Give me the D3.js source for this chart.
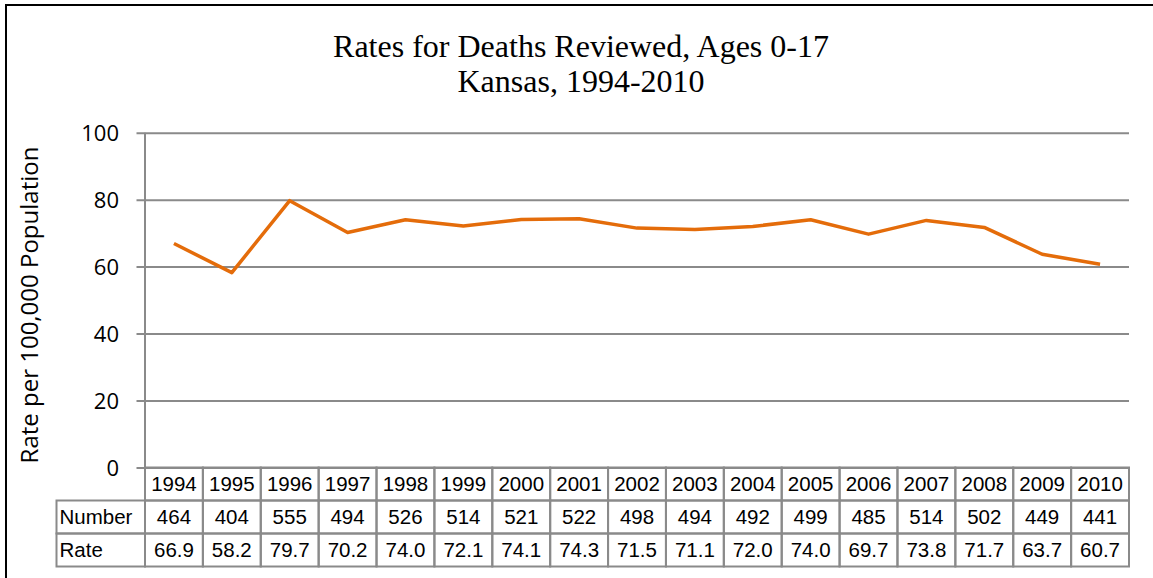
<!DOCTYPE html>
<html>
<head>
<meta charset="utf-8">
<script src="https://cdn.jsdelivr.net/npm/d3@7"></script>
<style>
  body { margin: 0; background: #fff; }
  svg { display: block; }
</style>
</head>
<body>
<svg id="chart" width="1153" height="578"></svg>
<script>
var years = ["1994", "1995", "1996", "1997", "1998", "1999", "2000", "2001", "2002",
             "2003", "2004", "2005", "2006", "2007", "2008", "2009", "2010"];
var numbers = [464, 404, 555, 494, 526, 514, 521, 522, 498, 494, 492, 499, 485, 514, 502, 449, 441];
var rates = [66.9, 58.2, 79.7, 70.2, 74.0, 72.1, 74.1, 74.3, 71.5, 71.1, 72.0, 74.0, 69.7, 73.8, 71.7, 63.7, 60.7];
var yTicks = [0, 20, 40, 60, 80, 100];
var titleLines = ["Rates for Deaths Reviewed, Ages 0-17", "Kansas, 1994-2010"];
var yLabel = "Rate per 100,000 Population";
var rowLabels = ["Number", "Rate"];

var svg = d3.select("#chart");

// plot box (note: "top" is reserved on window, so use plot* names)
var plotL = 145, plotR = 1129, plotT = 132.7, plotB = 467.5;
var rowH = 33;
var labelLeft = 56.5;
var grid = "#8a8a8a";

// outer chart border (right and bottom edges fall outside the picture)
svg.append("rect")
  .attr("x", 6).attr("y", 5)
  .attr("width", 1160).attr("height", 600)
  .attr("fill", "none")
  .attr("stroke", "#000")
  .attr("stroke-width", 2);

var x = d3.scaleBand().domain(years).range([plotL, plotR]);
var y = d3.scaleLinear().domain([0, 100]).range([plotB, plotT]);

// title
svg.append("g").selectAll("text")
  .data(titleLines)
  .enter().append("text")
  .attr("x", 581)
  .attr("y", function(d, i) { return 56.5 + i * 35.5; })
  .attr("text-anchor", "middle")
  .style("font-family", "'Liberation Serif', 'Times New Roman', serif")
  .style("font-size", "32px")
  .style("fill", "#000")
  .text(function(d) { return d; });

// gridlines + ticks
var yAxis = d3.axisLeft(y)
  .tickValues(yTicks)
  .tickSize(-(plotR - plotL))
  .tickSizeOuter(0)
  .tickPadding(18)
  .tickFormat(d3.format("d"));

var gy = svg.append("g")
  .attr("transform", "translate(" + plotL + ",0)")
  .call(yAxis);
gy.select(".domain").remove();
gy.selectAll(".tick line")
  .attr("x1", -8.5)
  .attr("stroke", grid)
  .attr("stroke-width", 2);
gy.selectAll(".tick text")
  .attr("x", -26)
  .style("font-family", "'Open Sans', 'Noto Sans', sans-serif")
  .style("font-size", "22px")
  .style("fill", "#000")
  .attr("dy", "0.36em");

// vertical axis line runs down through the table header
svg.append("line")
  .attr("x1", plotL).attr("x2", plotL)
  .attr("y1", plotT).attr("y2", plotB + 3 * rowH)
  .attr("stroke", grid)
  .attr("stroke-width", 2);

// y label
svg.append("text")
  .attr("transform", "translate(38," + 305 + ") rotate(-90)")
  .attr("text-anchor", "middle")
  .style("font-family", "'Open Sans', 'Noto Sans', sans-serif")
  .style("font-size", "24px")
  .style("fill", "#000")
  .text(yLabel);

// line
var line = d3.line()
  .x(function(d, i) { return x(years[i]) + x.bandwidth() / 2; })
  .y(function(d) { return y(d); });

svg.append("path")
  .datum(rates)
  .attr("d", line)
  .attr("fill", "none")
  .attr("stroke", "#e46c0a")
  .attr("stroke-width", 3.5)
  .attr("stroke-linejoin", "round");

// data table
var table = svg.append("g");
var rows = [years, numbers, rates.map(function(v) { return v.toFixed(1); })];

rows.forEach(function(row, r) {
  var y0 = plotB + r * rowH;
  table.selectAll(".cell" + r)
    .data(row)
    .enter().append("rect")
    .attr("class", "cell" + r)
    .attr("x", function(d, i) { return x(years[i]); })
    .attr("y", y0)
    .attr("width", x.bandwidth())
    .attr("height", rowH)
    .attr("fill", "none")
    .attr("stroke", grid)
    .attr("stroke-width", 2);

  table.selectAll(".txt" + r)
    .data(row)
    .enter().append("text")
    .attr("class", "txt" + r)
    .attr("x", function(d, i) { return x(years[i]) + x.bandwidth() / 2; })
    .attr("y", y0 + rowH / 2)
    .attr("dy", "0.36em")
    .attr("text-anchor", "middle")
    .style("font-family", "'Liberation Sans', Arial, sans-serif")
    .style("font-size", "20.5px")
    .style("fill", "#000")
    .text(function(d) { return d; });
});

// row label cells
rowLabels.forEach(function(lbl, r) {
  var y0 = plotB + (r + 1) * rowH;
  table.append("rect")
    .attr("x", labelLeft)
    .attr("y", y0)
    .attr("width", plotL - labelLeft)
    .attr("height", rowH)
    .attr("fill", "none")
    .attr("stroke", grid)
    .attr("stroke-width", 2);
  table.append("text")
    .attr("x", labelLeft + 3)
    .attr("y", y0 + rowH / 2)
    .attr("dy", "0.36em")
    .style("font-family", "'Liberation Sans', Arial, sans-serif")
    .style("font-size", "20.5px")
    .style("fill", "#000")
    .text(lbl);
});
</script>
</body>
</html>
